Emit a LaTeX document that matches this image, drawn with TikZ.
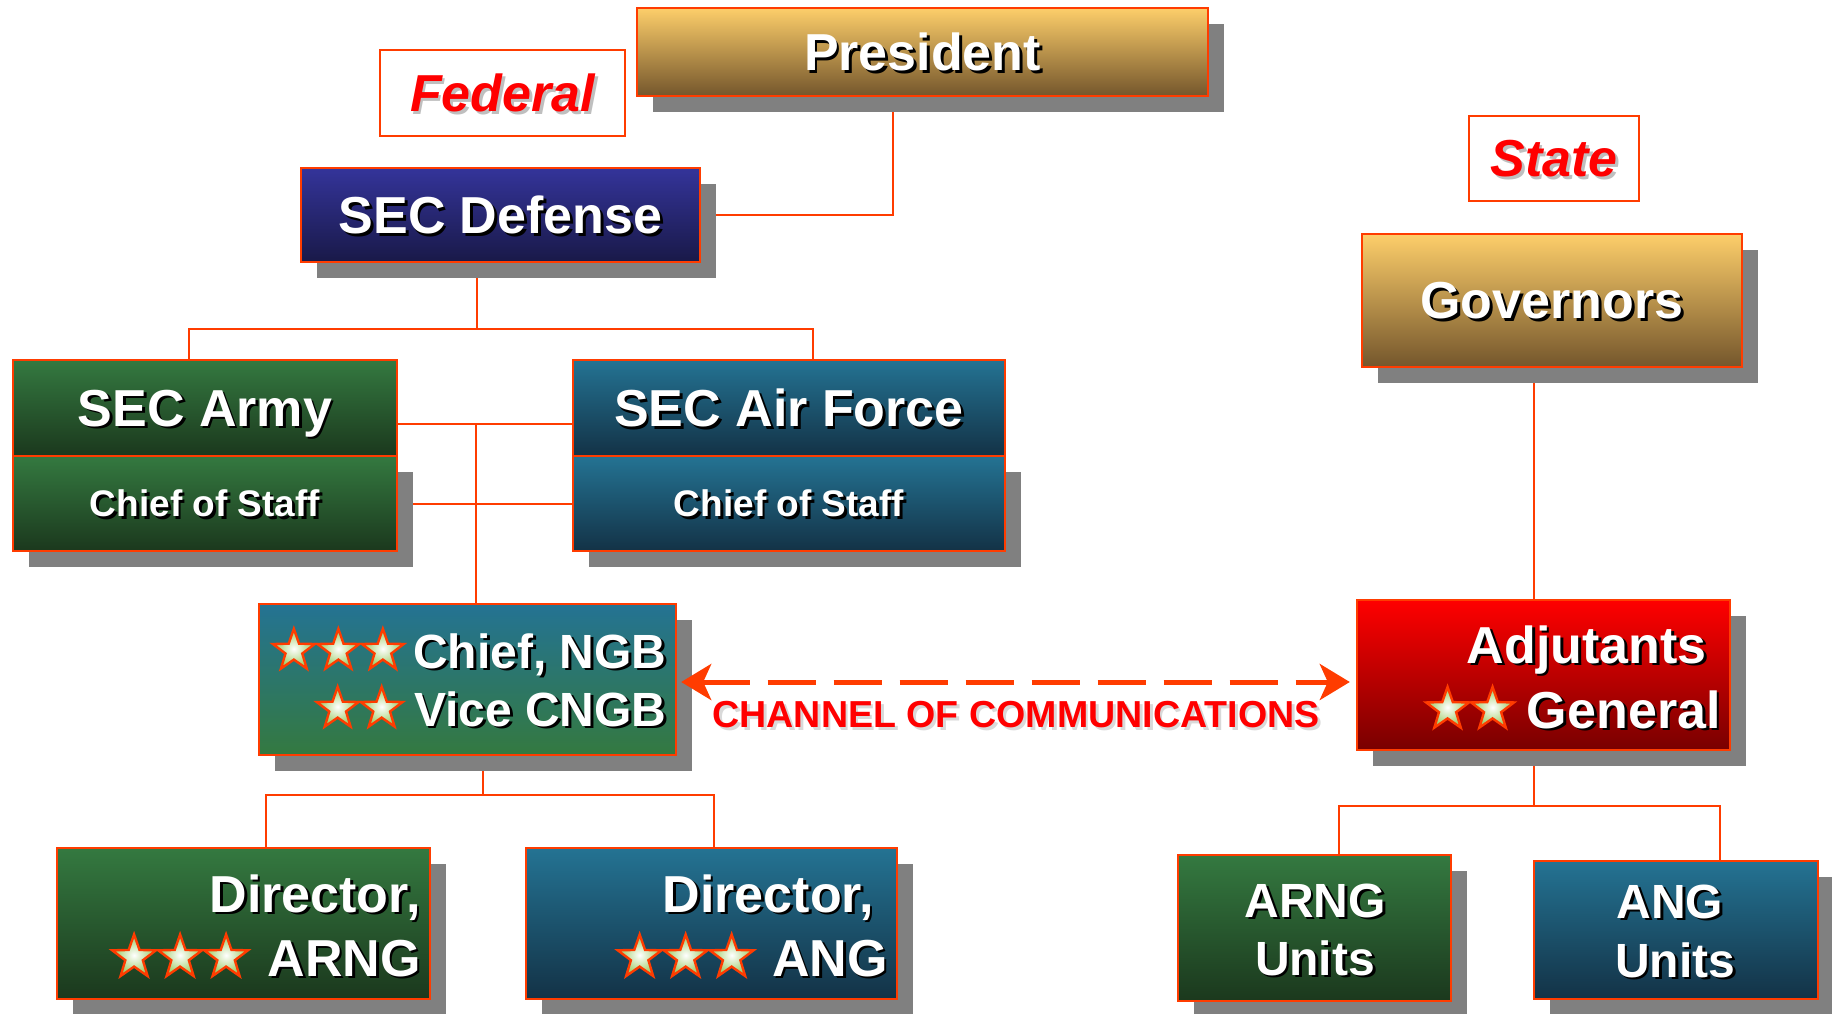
\documentclass[tikz,border=0pt]{standalone}
\usepackage{fontspec}
\setmainfont{Liberation Sans}
\usetikzlibrary{shapes.geometric,shadows,backgrounds,arrows.meta}

\definecolor{edge}{RGB}{255,60,0}
\definecolor{shadowgray}{RGB}{128,128,128}
\definecolor{goldtop}{RGB}{253,206,106}
\definecolor{goldbot}{RGB}{116,86,44}
\definecolor{navytop}{RGB}{52,52,154}
\definecolor{navybot}{RGB}{25,25,72}
\definecolor{greentop}{RGB}{52,121,64}
\definecolor{greenbot}{RGB}{27,56,29}
\definecolor{tealtop}{RGB}{36,115,147}
\definecolor{tealbot}{RGB}{19,50,70}
\definecolor{redtop}{RGB}{255,0,0}
\definecolor{redbot}{RGB}{120,0,0}
\definecolor{starout}{RGB}{150,200,90}

% text with a drop shadow
\newcommand\sh[2][black]{\leavevmode\rlap{\kern1.4pt\raisebox{-1.4pt}{\textcolor{#1}{#2}}}#2}

\tikzset{
  box/.style={draw=edge, line width=1.2pt, inner sep=0pt, text=white, text depth=0pt},
  shad/.style={drop shadow={shadow xshift=8pt, shadow yshift=-8pt, fill=shadowgray, opacity=1}},
  sz/.style 2 args={minimum width=#1*0.5pt, minimum height=#2*0.5pt},
  goldfill/.style={top color=goldtop, bottom color=goldbot},
  navyfill/.style={top color=navytop, bottom color=navybot},
  greenfill/.style={top color=greentop, bottom color=greenbot},
  tealfill/.style={top color=tealtop, bottom color=tealbot},
  guardfill/.style={top color=tealtop, bottom color=greentop},
  redfill/.style={top color=redtop, bottom color=redbot},
  tag/.style={draw=edge, line width=0.8pt, fill=white, text=red, text depth=0pt},
  big/.style={font=\bfseries\fontsize{26}{31}\selectfont},
  mid/.style={font=\bfseries\fontsize{24}{29}\selectfont},
  small/.style={font=\bfseries\fontsize{18.5}{22}\selectfont},
  txt/.style={inner sep=0pt, text=white},
  medal/.style={star, star points=5, star point ratio=2.5, minimum size=22pt, inner sep=0pt,
    draw=edge, line width=1.2pt, inner color=white, outer color=starout},
  link/.style={draw=edge, line width=1pt},
  chanarrow/.style={draw=edge, line width=2.5pt, dash pattern=on 24pt off 9pt,
    <->, >={Stealth[length=15pt,width=18pt,inset=4pt]}},
}

\begin{document}
\begin{tikzpicture}[x=0.5pt, y=-0.5pt]
\useasboundingbox (0,0) rectangle (1832,1013);
% federal side
\node[tag, sz={245}{86}, big] (fed) at (502.5,93) {\itshape\sh[black!25]{Federal}};
\node[box, shad, goldfill, sz={571}{88}, big] (pres) at (922.5,52) {\sh{President}};
\node[box, shad, navyfill, sz={399}{94}, big] (secdef) at (500.5,215) {\sh{SEC Defense}};
\node[box, greenfill, sz={384}{96}, big] (army) at (205,408) {\sh{SEC Army}};
\node[box, shad, greenfill, sz={384}{95}, small] (armycs) at (205,503.5) {\sh{Chief of Staff}};
\node[box, tealfill, sz={432}{96}, big] (af) at (789,408) {\sh{SEC Air Force}};
\node[box, shad, tealfill, sz={432}{95}, small] (afcs) at (789,503.5) {\sh{Chief of Staff}};
\node[box, shad, guardfill, sz={417}{151}] (cngb) at (467.5,679.5) {};
\node[txt, mid, anchor=base east] (cngb1) at (667,668) {\sh{Chief, NGB}};
\node[txt, mid, anchor=base east] (cngb2) at (667,726) {\sh{Vice CNGB}};
\foreach \i in {1,2,3}
    \node[medal] (ca\i) at ([xshift={-15pt-(\i-1)*22.25pt}, yshift=8.6pt]cngb1.base west) {};
\foreach \i in {1,2}
    \node[medal] (cb\i) at ([xshift={-16pt-(\i-1)*22pt}, yshift=8.6pt]cngb2.base west) {};
\node[box, shad, greenfill, sz={373}{151}] (darng) at (243.5,923.5) {};
\node[txt, big, anchor=base east] (darng1) at (421,912) {\sh{Director,}};
\node[txt, big, anchor=base east] (darng2) at (421,976) {\sh{ARNG}};
\foreach \i in {1,2,3}
    \node[medal, minimum size=23pt] (da\i) at ([xshift={-20.5pt-(\i-1)*23pt}, yshift=9.3pt]darng2.base west) {};
\node[box, shad, tealfill, sz={371}{151}] (dang) at (711.5,923.5) {};
\node[txt, big, anchor=base east] (dang1) at (874,912) {\sh{Director,}};
\node[txt, big, anchor=base east] (dang2) at (888,976) {\sh{ANG}};
\foreach \i in {1,2,3}
    \node[medal, minimum size=23pt] (dn\i) at ([xshift={-20pt-(\i-1)*23pt}, yshift=9.3pt]dang2.base west) {};
% state side
\node[tag, sz={170}{85}, big] (state) at (1554,158.5) {\itshape\sh[black!25]{State}};
\node[box, shad, goldfill, sz={380}{133}, big] (gov) at (1552,300.5) {\sh{Governors}};
\node[box, shad, redfill, sz={373}{150}] (ag) at (1543.5,675) {};
\node[txt, big, anchor=base east] (ag1) at (1707,663) {\sh{Adjutants}};
\node[txt, big, anchor=base east] (ag2) at (1721,728) {\sh{General}};
\foreach \i in {1,2}
    \node[medal, minimum size=22.5pt] (gs\i) at ([xshift={-17pt-(\i-1)*22.5pt}, yshift=9.3pt]ag2.base west) {};
\node[box, shad, greenfill, sz={273}{146}] (arngu) at (1314.5,928) {};
\node[txt, mid, anchor=base] (arngu1) at (1315,917) {\sh{ARNG}};
\node[txt, mid, anchor=base] (arngu2) at (1315,975) {\sh{Units}};
\node[box, shad, tealfill, sz={284}{138}] (angu) at (1676,930) {};
\node[txt, mid, anchor=base] (angu1) at (1670,918) {\sh{ANG}};
\node[txt, mid, anchor=base] (angu2) at (1675,977) {\sh{Units}};
% channel
\node[inner sep=0pt, text=red, text depth=0pt, font=\bfseries\fontsize{18.8}{23}\selectfont]
    (chan) at (1016,714.5) {\sh[black!15]{CHANNEL OF COMMUNICATIONS}};
\path (cngb.east) ++(4,2.5) coordinate (chl);
\path (ag.west) ++(-6,7) coordinate (chr);
\draw[chanarrow] (chl) -- (chr);
% connectors
\begin{scope}[on background layer]
\draw[link] (secdef.east) -| ([xshift=-14.75pt]pres.south);
\draw[link] ([xshift=-12pt]secdef.south) -- ++(0,66) coordinate (dbus);
\draw[link] ([xshift=-8pt]army.north) |- (dbus) -| ([xshift=12pt]af.north);
\draw[link] ([yshift=-8pt]army.east) -- ([yshift=-8pt]af.west);
\draw[link] (armycs.east) -- (afcs.west);
\draw[link] ([xshift=4pt]cngb.north) -- ++(0,-180);
\draw[link] ([xshift=7.5pt]cngb.south) -- ++(0,39) coordinate (nbus);
\draw[link] ([xshift=11pt]darng.north) |- (nbus) -| ([xshift=1pt]dang.north);
\draw[link] ([xshift=-9pt]gov.south) -- ([xshift=-4.75pt]ag.north);
\draw[link] ([xshift=-4.75pt]ag.south) -- ++(0,55) coordinate (sbus);
\draw[link] ([xshift=12pt]arngu.north) |- (sbus) -| ([xshift=22pt]angu.north);
\end{scope}
\end{tikzpicture}
\end{document}
